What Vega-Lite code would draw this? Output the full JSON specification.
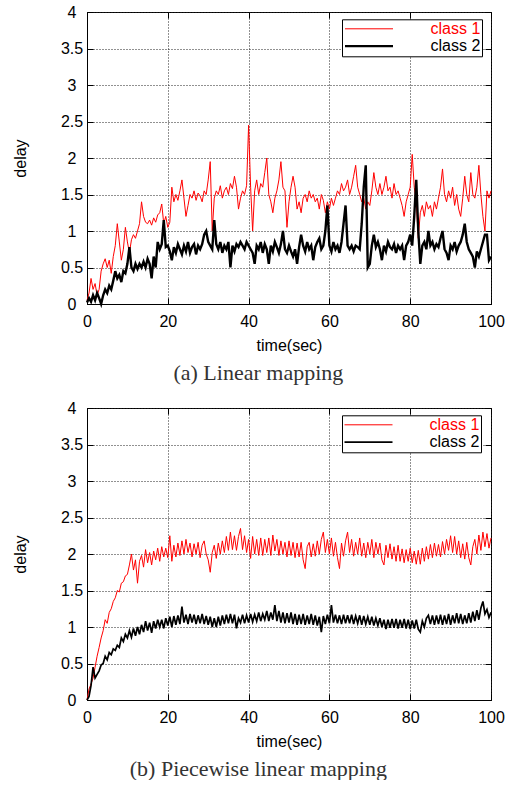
{
"$schema": "https://vega.github.io/schema/vega-lite/v6.json",
"padding": {"left": 11, "top": 3, "right": 0, "bottom": 0},
"background": "white",
"spacing": 15,
"config": {
 "view": {"stroke": "black", "strokeWidth": 1},
 "font": "Liberation Sans",
 "axis": {"labelFont": "Liberation Sans", "labelFontSize": 16, "labelColor": "black", "titleFont": "Liberation Sans", "titleFontSize": 16, "titleFontWeight": "normal", "titleColor": "black", "tickColor": "black", "domainColor": "black", "tickSize": -6, "gridColor": "#222222", "gridDash": [1, 2], "gridOpacity": 1, "labelFlush": false}
},
"datasets": {
 "a": [
{"t":0,"c1":0.05,"c2":0.02},{"t":0.5,"c1":0.15,"c2":0.08},{"t":1,"c1":0.35,"c2":0.03},{"t":1.5,"c1":0.2,"c2":0.12},{"t":2,"c1":0.28,"c2":0.05},{"t":2.5,"c1":0.12,"c2":0.15},{"t":3,"c1":0.2,"c2":0.08},{"t":3.5,"c1":0.45,"c2":0.0},{"t":4,"c1":0.55,"c2":0.12},{"t":4.5,"c1":0.62,"c2":0.2},
{"t":5,"c1":0.5,"c2":0.15},{"t":5.5,"c1":0.6,"c2":0.25},{"t":6,"c1":0.42,"c2":0.2},{"t":6.5,"c1":0.65,"c2":0.32},{"t":7,"c1":0.8,"c2":0.45},{"t":7.5,"c1":1.1,"c2":0.35},{"t":8,"c1":0.85,"c2":0.4},{"t":8.5,"c1":0.6,"c2":0.3},{"t":9,"c1":0.75,"c2":0.45},{"t":9.5,"c1":1.05,"c2":0.42},
{"t":10,"c1":0.85,"c2":0.55},{"t":10.5,"c1":0.7,"c2":0.78},{"t":11,"c1":0.88,"c2":0.5},{"t":11.5,"c1":0.95,"c2":0.45},{"t":12,"c1":0.9,"c2":0.55},{"t":12.5,"c1":1.0,"c2":0.48},{"t":13,"c1":1.1,"c2":0.55},{"t":13.5,"c1":1.4,"c2":0.5},{"t":14,"c1":1.2,"c2":0.58},{"t":14.5,"c1":1.12,"c2":0.5},
{"t":15,"c1":1.1,"c2":0.62},{"t":15.5,"c1":1.15,"c2":0.55},{"t":16,"c1":1.08,"c2":0.35},{"t":16.5,"c1":1.18,"c2":0.65},{"t":17,"c1":1.12,"c2":0.5},{"t":17.5,"c1":1.22,"c2":0.85},{"t":18,"c1":1.25,"c2":0.75},{"t":18.5,"c1":1.37,"c2":0.82},{"t":19,"c1":1.1,"c2":1.15},{"t":19.5,"c1":1.2,"c2":0.78},
{"t":20,"c1":1.05,"c2":0.8},{"t":20.5,"c1":1.12,"c2":0.72},{"t":21,"c1":1.6,"c2":0.6},{"t":21.5,"c1":1.4,"c2":0.78},{"t":22,"c1":1.5,"c2":0.7},{"t":22.5,"c1":1.42,"c2":0.82},{"t":23,"c1":1.55,"c2":0.75},{"t":23.5,"c1":1.7,"c2":0.68},{"t":24,"c1":1.45,"c2":0.8},{"t":24.5,"c1":1.2,"c2":0.72},
{"t":25,"c1":1.35,"c2":0.85},{"t":25.5,"c1":1.5,"c2":0.7},{"t":26,"c1":1.45,"c2":0.78},{"t":26.5,"c1":1.55,"c2":0.82},{"t":27,"c1":1.42,"c2":0.68},{"t":27.5,"c1":1.52,"c2":0.8},{"t":28,"c1":1.48,"c2":0.75},{"t":28.5,"c1":1.4,"c2":0.82},{"t":29,"c1":1.55,"c2":0.95},{"t":29.5,"c1":1.5,"c2":1.0},
{"t":30,"c1":1.7,"c2":0.85},{"t":30.5,"c1":1.95,"c2":0.8},{"t":31,"c1":1.0,"c2":0.75},{"t":31.5,"c1":1.45,"c2":1.15},{"t":32,"c1":1.55,"c2":0.82},{"t":32.5,"c1":1.5,"c2":0.75},{"t":33,"c1":1.62,"c2":0.85},{"t":33.5,"c1":1.45,"c2":0.7},{"t":34,"c1":1.55,"c2":0.8},{"t":34.5,"c1":1.6,"c2":0.75},
{"t":35,"c1":1.5,"c2":0.85},{"t":35.5,"c1":1.65,"c2":0.5},{"t":36,"c1":1.58,"c2":0.8},{"t":36.5,"c1":1.75,"c2":0.72},{"t":37,"c1":1.6,"c2":0.82},{"t":37.5,"c1":1.3,"c2":0.78},{"t":38,"c1":1.45,"c2":0.85},{"t":38.5,"c1":1.55,"c2":0.8},{"t":39,"c1":1.5,"c2":0.75},{"t":39.5,"c1":1.62,"c2":0.85},
{"t":40,"c1":2.45,"c2":0.8},{"t":40.5,"c1":1.6,"c2":0.75},{"t":41,"c1":1.0,"c2":0.7},{"t":41.5,"c1":1.55,"c2":0.55},{"t":42,"c1":1.7,"c2":0.8},{"t":42.5,"c1":1.5,"c2":0.75},{"t":43,"c1":1.65,"c2":0.85},{"t":43.5,"c1":1.6,"c2":0.7},{"t":44,"c1":1.8,"c2":0.82},{"t":44.5,"c1":2.0,"c2":0.75},
{"t":45,"c1":1.5,"c2":0.55},{"t":45.5,"c1":1.4,"c2":0.8},{"t":46,"c1":1.25,"c2":0.72},{"t":46.5,"c1":1.45,"c2":0.85},{"t":47,"c1":1.55,"c2":0.78},{"t":47.5,"c1":1.7,"c2":0.7},{"t":48,"c1":1.95,"c2":0.82},{"t":48.5,"c1":1.6,"c2":1.0},{"t":49,"c1":1.55,"c2":0.75},{"t":49.5,"c1":1.05,"c2":0.7},
{"t":50,"c1":1.4,"c2":0.8},{"t":50.5,"c1":1.6,"c2":0.72},{"t":51,"c1":1.75,"c2":0.65},{"t":51.5,"c1":1.6,"c2":0.75},{"t":52,"c1":1.3,"c2":0.55},{"t":52.5,"c1":1.4,"c2":0.78},{"t":53,"c1":1.25,"c2":0.95},{"t":53.5,"c1":1.45,"c2":0.8},{"t":54,"c1":1.5,"c2":0.72},{"t":54.5,"c1":1.4,"c2":0.85},
{"t":55,"c1":1.55,"c2":0.75},{"t":55.5,"c1":1.45,"c2":0.8},{"t":56,"c1":1.5,"c2":0.6},{"t":56.5,"c1":1.4,"c2":0.78},{"t":57,"c1":1.45,"c2":0.85},{"t":57.5,"c1":1.3,"c2":0.9},{"t":58,"c1":1.5,"c2":0.75},{"t":58.5,"c1":1.42,"c2":0.8},{"t":59,"c1":1.25,"c2":1.0},{"t":59.5,"c1":1.4,"c2":1.35},
{"t":60,"c1":1.3,"c2":0.8},{"t":60.5,"c1":1.45,"c2":0.72},{"t":61,"c1":1.35,"c2":0.85},{"t":61.5,"c1":1.45,"c2":0.75},{"t":62,"c1":1.55,"c2":0.8},{"t":62.5,"c1":1.5,"c2":0.7},{"t":63,"c1":1.65,"c2":0.85},{"t":63.5,"c1":1.55,"c2":1.1},{"t":64,"c1":1.6,"c2":1.35},{"t":64.5,"c1":1.7,"c2":0.8},
{"t":65,"c1":1.5,"c2":0.75},{"t":65.5,"c1":1.6,"c2":0.8},{"t":66,"c1":1.75,"c2":0.72},{"t":66.5,"c1":1.9,"c2":0.8},{"t":67,"c1":1.6,"c2":0.78},{"t":67.5,"c1":1.5,"c2":0.75},{"t":68,"c1":1.4,"c2":1.1},{"t":68.5,"c1":1.45,"c2":1.6},{"t":69,"c1":1.3,"c2":1.9},{"t":69.5,"c1":1.4,"c2":0.5},
{"t":70,"c1":1.35,"c2":0.55},{"t":70.5,"c1":1.55,"c2":0.8},{"t":71,"c1":1.8,"c2":0.95},{"t":71.5,"c1":1.6,"c2":0.78},{"t":72,"c1":1.5,"c2":0.85},{"t":72.5,"c1":1.65,"c2":0.75},{"t":73,"c1":1.5,"c2":0.6},{"t":73.5,"c1":1.6,"c2":0.8},{"t":74,"c1":1.75,"c2":0.72},{"t":74.5,"c1":1.55,"c2":0.85},
{"t":75,"c1":1.6,"c2":0.78},{"t":75.5,"c1":1.45,"c2":0.75},{"t":76,"c1":1.65,"c2":0.82},{"t":76.5,"c1":1.5,"c2":0.7},{"t":77,"c1":1.55,"c2":0.8},{"t":77.5,"c1":1.45,"c2":0.75},{"t":78,"c1":1.35,"c2":0.8},{"t":78.5,"c1":1.2,"c2":0.6},{"t":79,"c1":1.4,"c2":0.8},{"t":79.5,"c1":1.5,"c2":0.85},
{"t":80,"c1":1.6,"c2":0.95},{"t":80.5,"c1":2.05,"c2":0.8},{"t":81,"c1":1.6,"c2":1.2},{"t":81.5,"c1":1.4,"c2":1.7},{"t":82,"c1":0.9,"c2":1.0},{"t":82.5,"c1":1.25,"c2":0.55},{"t":83,"c1":1.35,"c2":0.8},{"t":83.5,"c1":1.2,"c2":0.85},{"t":84,"c1":1.4,"c2":0.75},{"t":84.5,"c1":1.3,"c2":1.0},
{"t":85,"c1":1.35,"c2":0.8},{"t":85.5,"c1":1.2,"c2":0.85},{"t":86,"c1":1.4,"c2":0.75},{"t":86.5,"c1":1.3,"c2":0.82},{"t":87,"c1":1.45,"c2":0.78},{"t":87.5,"c1":1.6,"c2":0.9},{"t":88,"c1":1.85,"c2":1.0},{"t":88.5,"c1":1.5,"c2":0.75},{"t":89,"c1":1.4,"c2":0.7},{"t":89.5,"c1":1.55,"c2":0.6},
{"t":90,"c1":1.45,"c2":0.8},{"t":90.5,"c1":1.6,"c2":0.75},{"t":91,"c1":1.35,"c2":0.85},{"t":91.5,"c1":1.5,"c2":0.72},{"t":92,"c1":1.3,"c2":0.8},{"t":92.5,"c1":1.2,"c2":0.85},{"t":93,"c1":1.45,"c2":0.95},{"t":93.5,"c1":1.75,"c2":1.1},{"t":94,"c1":1.5,"c2":0.85},{"t":94.5,"c1":1.4,"c2":0.75},
{"t":95,"c1":1.8,"c2":0.7},{"t":95.5,"c1":1.5,"c2":0.65},{"t":96,"c1":1.45,"c2":0.5},{"t":96.5,"c1":1.6,"c2":0.72},{"t":97,"c1":1.9,"c2":0.65},{"t":97.5,"c1":1.5,"c2":0.75},{"t":98,"c1":1.2,"c2":0.85},{"t":98.5,"c1":1.0,"c2":0.95},{"t":99,"c1":1.55,"c2":0.95},{"t":99.5,"c1":1.45,"c2":0.6},
{"t":100,"c1":1.55,"c2":0.65}
 ],
 "b": [
{"t":0,"c1":0.0,"c2":0.0},{"t":0.5,"c1":0.15,"c2":0.05},{"t":1,"c1":0.22,"c2":0.2},{"t":1.5,"c1":0.3,"c2":0.45},{"t":2,"c1":0.45,"c2":0.3},{"t":2.5,"c1":0.6,"c2":0.35},{"t":3,"c1":0.72,"c2":0.4},{"t":3.5,"c1":0.85,"c2":0.48},{"t":4,"c1":0.95,"c2":0.5},{"t":4.5,"c1":1.1,"c2":0.6},
{"t":5,"c1":1.05,"c2":0.55},{"t":5.5,"c1":1.2,"c2":0.65},{"t":6,"c1":1.25,"c2":0.62},{"t":6.5,"c1":1.35,"c2":0.7},{"t":7,"c1":1.4,"c2":0.68},{"t":7.5,"c1":1.5,"c2":0.75},{"t":8,"c1":1.48,"c2":0.72},{"t":8.5,"c1":1.6,"c2":0.85},{"t":9,"c1":1.62,"c2":0.8},{"t":9.5,"c1":1.7,"c2":0.9},
{"t":10,"c1":1.72,"c2":0.85},{"t":10.5,"c1":1.85,"c2":0.95},{"t":11,"c1":2.0,"c2":0.86},{"t":11.5,"c1":1.78,"c2":0.98},{"t":12,"c1":1.92,"c2":0.88},{"t":12.5,"c1":1.6,"c2":1.0},{"t":13,"c1":1.9,"c2":0.9},{"t":13.5,"c1":1.98,"c2":1.03},{"t":14,"c1":1.82,"c2":0.93},{"t":14.5,"c1":2.06,"c2":1.08},
{"t":15,"c1":1.88,"c2":0.95},{"t":15.5,"c1":2.02,"c2":1.06},{"t":16,"c1":1.85,"c2":0.92},{"t":16.5,"c1":2.04,"c2":1.08},{"t":17,"c1":1.92,"c2":0.98},{"t":17.5,"c1":2.08,"c2":1.1},{"t":18,"c1":1.9,"c2":1.0},{"t":18.5,"c1":2.1,"c2":1.1},{"t":19,"c1":1.96,"c2":0.98},{"t":19.5,"c1":2.08,"c2":1.12},
{"t":20,"c1":1.95,"c2":1.02},{"t":20.5,"c1":2.25,"c2":1.14},{"t":21,"c1":1.9,"c2":1.0},{"t":21.5,"c1":2.12,"c2":1.15},{"t":22,"c1":1.96,"c2":1.03},{"t":22.5,"c1":2.15,"c2":1.16},{"t":23,"c1":1.98,"c2":1.04},{"t":23.5,"c1":2.18,"c2":1.28},{"t":24,"c1":2.0,"c2":1.06},{"t":24.5,"c1":2.2,"c2":1.17},
{"t":25,"c1":2.02,"c2":1.04},{"t":25.5,"c1":2.15,"c2":1.18},{"t":26,"c1":1.96,"c2":1.06},{"t":26.5,"c1":2.14,"c2":1.17},{"t":27,"c1":2.0,"c2":1.04},{"t":27.5,"c1":2.16,"c2":1.16},{"t":28,"c1":1.95,"c2":1.05},{"t":28.5,"c1":2.12,"c2":1.18},{"t":29,"c1":2.18,"c2":1.04},{"t":29.5,"c1":2.0,"c2":1.15},
{"t":30,"c1":1.92,"c2":1.03},{"t":30.5,"c1":1.75,"c2":1.14},{"t":31,"c1":2.02,"c2":1.0},{"t":31.5,"c1":2.12,"c2":1.12},{"t":32,"c1":1.94,"c2":1.0},{"t":32.5,"c1":2.15,"c2":1.14},{"t":33,"c1":2.0,"c2":1.02},{"t":33.5,"c1":2.18,"c2":1.16},{"t":34,"c1":2.02,"c2":1.04},{"t":34.5,"c1":2.24,"c2":1.17},
{"t":35,"c1":2.05,"c2":1.05},{"t":35.5,"c1":2.3,"c2":1.18},{"t":36,"c1":2.06,"c2":1.05},{"t":36.5,"c1":2.25,"c2":1.17},{"t":37,"c1":2.05,"c2":0.98},{"t":37.5,"c1":2.24,"c2":1.12},{"t":38,"c1":2.35,"c2":1.06},{"t":38.5,"c1":2.06,"c2":1.17},{"t":39,"c1":2.25,"c2":1.05},{"t":39.5,"c1":2.02,"c2":1.16},
{"t":40,"c1":2.2,"c2":1.06},{"t":40.5,"c1":1.94,"c2":1.18},{"t":41,"c1":2.24,"c2":1.07},{"t":41.5,"c1":2.0,"c2":1.17},{"t":42,"c1":2.2,"c2":1.08},{"t":42.5,"c1":1.98,"c2":1.2},{"t":43,"c1":2.22,"c2":1.08},{"t":43.5,"c1":1.98,"c2":1.18},{"t":44,"c1":2.2,"c2":1.1},{"t":44.5,"c1":2.02,"c2":1.22},
{"t":45,"c1":2.22,"c2":1.08},{"t":45.5,"c1":1.98,"c2":1.2},{"t":46,"c1":2.26,"c2":1.1},{"t":46.5,"c1":2.04,"c2":1.3},{"t":47,"c1":2.2,"c2":1.08},{"t":47.5,"c1":1.98,"c2":1.22},{"t":48,"c1":2.18,"c2":1.06},{"t":48.5,"c1":2.0,"c2":1.2},{"t":49,"c1":2.16,"c2":1.05},{"t":49.5,"c1":1.96,"c2":1.19},
{"t":50,"c1":2.18,"c2":1.06},{"t":50.5,"c1":1.98,"c2":1.2},{"t":51,"c1":2.16,"c2":1.04},{"t":51.5,"c1":1.95,"c2":1.18},{"t":52,"c1":2.15,"c2":1.03},{"t":52.5,"c1":1.96,"c2":1.17},{"t":53,"c1":2.16,"c2":1.04},{"t":53.5,"c1":1.92,"c2":1.18},{"t":54,"c1":1.8,"c2":1.03},{"t":54.5,"c1":2.1,"c2":1.16},
{"t":55,"c1":2.16,"c2":1.04},{"t":55.5,"c1":1.96,"c2":1.18},{"t":56,"c1":2.14,"c2":1.03},{"t":56.5,"c1":1.97,"c2":1.16},{"t":57,"c1":2.18,"c2":1.02},{"t":57.5,"c1":2.0,"c2":1.14},{"t":58,"c1":2.2,"c2":0.93},{"t":58.5,"c1":2.3,"c2":1.15},{"t":59,"c1":2.02,"c2":1.04},{"t":59.5,"c1":2.2,"c2":1.17},
{"t":60,"c1":2.0,"c2":1.05},{"t":60.5,"c1":2.22,"c2":1.3},{"t":61,"c1":1.97,"c2":1.06},{"t":61.5,"c1":2.16,"c2":1.17},{"t":62,"c1":1.95,"c2":1.05},{"t":62.5,"c1":1.8,"c2":1.16},{"t":63,"c1":2.15,"c2":1.04},{"t":63.5,"c1":1.97,"c2":1.17},{"t":64,"c1":2.18,"c2":1.05},{"t":64.5,"c1":2.3,"c2":1.16},
{"t":65,"c1":2.02,"c2":1.05},{"t":65.5,"c1":2.2,"c2":1.17},{"t":66,"c1":1.97,"c2":1.04},{"t":66.5,"c1":2.16,"c2":1.15},{"t":67,"c1":2.0,"c2":1.05},{"t":67.5,"c1":2.22,"c2":1.16},{"t":68,"c1":1.97,"c2":1.03},{"t":68.5,"c1":2.15,"c2":1.15},{"t":69,"c1":1.95,"c2":1.04},{"t":69.5,"c1":2.16,"c2":1.14},
{"t":70,"c1":2.0,"c2":1.03},{"t":70.5,"c1":2.2,"c2":1.14},{"t":71,"c1":1.95,"c2":1.02},{"t":71.5,"c1":2.16,"c2":1.12},{"t":72,"c1":2.0,"c2":1.02},{"t":72.5,"c1":2.15,"c2":1.12},{"t":73,"c1":1.92,"c2":1.0},{"t":73.5,"c1":1.85,"c2":1.1},{"t":74,"c1":2.12,"c2":0.97},{"t":74.5,"c1":1.95,"c2":1.1},
{"t":75,"c1":2.14,"c2":0.99},{"t":75.5,"c1":1.93,"c2":1.11},{"t":76,"c1":2.1,"c2":0.99},{"t":76.5,"c1":1.9,"c2":1.11},{"t":77,"c1":2.12,"c2":0.98},{"t":77.5,"c1":1.9,"c2":1.1},{"t":78,"c1":2.07,"c2":0.99},{"t":78.5,"c1":1.88,"c2":1.11},{"t":79,"c1":2.06,"c2":0.98},{"t":79.5,"c1":1.9,"c2":1.1},
{"t":80,"c1":2.08,"c2":0.97},{"t":80.5,"c1":1.88,"c2":1.09},{"t":81,"c1":2.04,"c2":0.98},{"t":81.5,"c1":1.86,"c2":1.1},{"t":82,"c1":2.05,"c2":0.97},{"t":82.5,"c1":1.86,"c2":0.93},{"t":83,"c1":2.08,"c2":1.08},{"t":83.5,"c1":1.9,"c2":1.0},{"t":84,"c1":2.1,"c2":1.12},{"t":84.5,"c1":1.93,"c2":1.16},
{"t":85,"c1":2.13,"c2":1.04},{"t":85.5,"c1":1.95,"c2":1.16},{"t":86,"c1":2.15,"c2":1.03},{"t":86.5,"c1":1.97,"c2":1.16},{"t":87,"c1":2.13,"c2":1.04},{"t":87.5,"c1":1.96,"c2":1.17},{"t":88,"c1":2.17,"c2":1.03},{"t":88.5,"c1":2.0,"c2":1.16},{"t":89,"c1":2.2,"c2":1.04},{"t":89.5,"c1":2.05,"c2":1.18},
{"t":90,"c1":2.25,"c2":1.03},{"t":90.5,"c1":2.02,"c2":1.16},{"t":91,"c1":2.24,"c2":1.05},{"t":91.5,"c1":2.0,"c2":1.19},{"t":92,"c1":2.18,"c2":1.05},{"t":92.5,"c1":1.95,"c2":1.18},{"t":93,"c1":2.14,"c2":1.04},{"t":93.5,"c1":1.93,"c2":1.16},{"t":94,"c1":2.16,"c2":1.05},{"t":94.5,"c1":1.95,"c2":1.19},
{"t":95,"c1":1.85,"c2":1.06},{"t":95.5,"c1":2.1,"c2":1.21},{"t":96,"c1":2.2,"c2":1.08},{"t":96.5,"c1":2.0,"c2":1.23},{"t":97,"c1":2.26,"c2":1.1},{"t":97.5,"c1":2.05,"c2":1.26},{"t":98,"c1":2.3,"c2":1.35},{"t":98.5,"c1":2.1,"c2":1.18},{"t":99,"c1":2.28,"c2":1.24},{"t":99.5,"c1":2.08,"c2":1.13},
{"t":100,"c1":2.22,"c2":1.2}
 ]
},
"vconcat": [
 {
  "width": 404, "height": 292,
  "data": {"name": "a"},
  "transform": [{"fold": ["c1", "c2"], "as": ["k", "v"]}],
  "title": {"text": "(a) Linear mapping", "orient": "bottom", "anchor": "middle", "frame": "bounds", "font": "Liberation Serif", "fontSize": 22, "fontWeight": "normal", "color": "#333333", "offset": 9},
  "layer": [
   {
    "mark": {"type": "line"},
    "encoding": {
     "x": {"field": "t", "type": "quantitative", "scale": {"domain": [0, 100], "nice": false}, "axis": {"values": [0, 20, 40, 60, 80, 100], "title": "time(sec)", "grid": true, "labelPadding": 15, "titlePadding": 8.5}},
     "y": {"field": "v", "type": "quantitative", "scale": {"domain": [0, 4], "nice": false, "zero": false}, "axis": {"values": [0, 0.5, 1, 1.5, 2, 2.5, 3, 3.5, 4], "format": "~g", "title": "delay", "grid": true, "labelAlign": "center", "labelPadding": 21.5, "titlePadding": 32}},
     "color": {"field": "k", "type": "nominal", "scale": {"domain": ["c1", "c2"], "range": ["#ff0000", "#000000"]},
      "legend": {"title": null, "orient": "none", "legendX": 255, "legendY": 7.3, "labelExpr": "datum.value == 'c1' ? 'class 1' : 'class 2'", "labelColor": {"expr": "(datum.value == 'c1' ? '#ff0000' : '#000000')"}, "labelFont": "Liberation Sans", "labelFontSize": 16, "labelOffset": 36, "symbolType": "stroke", "symbolSize": 2304, "symbolStrokeWidth": {"expr": "(datum.value == 'c1' ? 1 : 2)"}, "clipHeight": 16, "rowPadding": 1.3, "padding": 1.5, "strokeColor": "black", "fillColor": "white", "cornerRadius": 0}},
     "strokeWidth": {"field": "k", "type": "ordinal", "scale": {"type": "ordinal", "domain": ["c1", "c2"], "range": [1, 2.4]}, "legend": null}
    }
   },
   {
    "mark": {"type": "line", "opacity": 0},
    "encoding": {
     "x": {"field": "t", "type": "quantitative", "axis": {"orient": "top", "values": [0, 20, 40, 60, 80, 100], "labels": false, "title": null, "grid": false, "domain": false}},
     "y": {"field": "v", "type": "quantitative", "axis": {"orient": "right", "values": [0, 0.5, 1, 1.5, 2, 2.5, 3, 3.5, 4], "labels": false, "title": null, "grid": false, "domain": false}}
    }
   }
  ],
  "resolve": {"axis": {"x": "independent", "y": "independent"}}
 },
 {
  "width": 404, "height": 292,
  "data": {"name": "b"},
  "transform": [{"fold": ["c1", "c2"], "as": ["k", "v"]}],
  "title": {"text": "(b) Piecewise linear mapping", "orient": "bottom", "anchor": "middle", "frame": "bounds", "font": "Liberation Serif", "fontSize": 22, "fontWeight": "normal", "color": "#333333", "offset": 9},
  "layer": [
   {
    "mark": {"type": "line"},
    "encoding": {
     "x": {"field": "t", "type": "quantitative", "scale": {"domain": [0, 100], "nice": false}, "axis": {"values": [0, 20, 40, 60, 80, 100], "title": "time(sec)", "grid": true, "labelPadding": 15, "titlePadding": 8.5}},
     "y": {"field": "v", "type": "quantitative", "scale": {"domain": [0, 4], "nice": false, "zero": false}, "axis": {"values": [0, 0.5, 1, 1.5, 2, 2.5, 3, 3.5, 4], "format": "~g", "title": "delay", "grid": true, "labelAlign": "center", "labelPadding": 21.5, "titlePadding": 32}},
     "color": {"field": "k", "type": "nominal", "scale": {"domain": ["c1", "c2"], "range": ["#ff0000", "#000000"]},
      "legend": {"title": null, "orient": "none", "legendX": 255, "legendY": 7.3, "labelExpr": "datum.value == 'c1' ? 'class 1' : 'class 2'", "labelColor": {"expr": "(datum.value == 'c1' ? '#ff0000' : '#000000')"}, "labelFont": "Liberation Sans", "labelFontSize": 16, "labelOffset": 36, "symbolType": "stroke", "symbolSize": 2304, "symbolStrokeWidth": {"expr": "(datum.value == 'c1' ? 1 : 2)"}, "clipHeight": 16, "rowPadding": 1.3, "padding": 1.5, "strokeColor": "black", "fillColor": "white", "cornerRadius": 0}},
     "strokeWidth": {"field": "k", "type": "ordinal", "scale": {"type": "ordinal", "domain": ["c1", "c2"], "range": [1, 1.7]}, "legend": null}
    }
   },
   {
    "mark": {"type": "line", "opacity": 0},
    "encoding": {
     "x": {"field": "t", "type": "quantitative", "axis": {"orient": "top", "values": [0, 20, 40, 60, 80, 100], "labels": false, "title": null, "grid": false, "domain": false}},
     "y": {"field": "v", "type": "quantitative", "axis": {"orient": "right", "values": [0, 0.5, 1, 1.5, 2, 2.5, 3, 3.5, 4], "labels": false, "title": null, "grid": false, "domain": false}}
    }
   }
  ],
  "resolve": {"axis": {"x": "independent", "y": "independent"}}
 }
],
"resolve": {"scale": {"color": "independent", "strokeWidth": "independent"}, "legend": {"color": "independent"}}
}
